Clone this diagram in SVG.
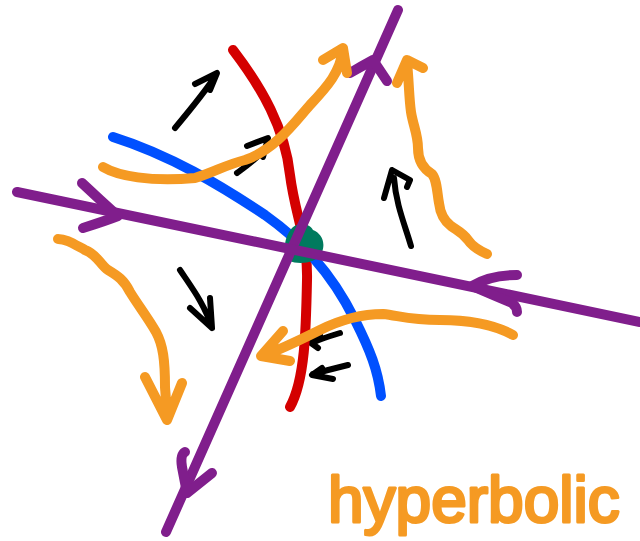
<svg xmlns="http://www.w3.org/2000/svg" width="640" height="541" viewBox="0 0 640 541">
<style>
.s{fill:none;stroke-linecap:round;stroke-linejoin:round}
.p{stroke:#801E8C;stroke-width:10}
.r{stroke:#D40000;stroke-width:10}
.b{stroke:#0050FF;stroke-width:10}
.o{stroke:#F59A23;stroke-width:10}
.k{stroke:#000;stroke-width:6}
.t{font-family:"Liberation Sans",Arial,sans-serif;font-size:64px;fill:#F59A23;stroke:#F59A23;stroke-width:3;stroke-linejoin:round}
</style>
<rect width="640" height="541" fill="#fff"/>
<g id="flow-arrows">
<path class="s k" d="M175,128 C190,110 205,92 216,75 M195,84 L217,73 L210,90"/>
<path class="s k" d="M237,173 C248,165 258,158 266,148 M247,146 L268,138 L263,157"/>
<path class="s k" d="M180,270 C192,288 205,305 212,328 M190,308 L212,328 L210,298"/>
<path class="s k" d="M411,246 C405,225 396,205 394,178 M384,198 L392,170 L410,180 L407,187"/>
<path class="s k" d="M340,333 C330,336 320,339 312,343 M320,335 L311,343 L318,348"/>
<path class="s k" d="M348,365 C336,368 324,371 313,374 M322,368 L312,375 L333,379"/>
</g>
<g id="curves">
<path class="s r" d="M233,50 C262,88 285,128 290,175 C295,215 308,240 307,280 C306,330 305,380 290,407"/>
<path class="s b" d="M113,137 C170,155 220,185 265,215 C300,240 330,270 355,320 C370,350 378,370 381,396"/>
</g>
<g id="origin">
<path fill="#007A5E" d="M292,228 C298,222 309,223 313,230 C321,233 326,242 322,252 C318,263 300,265 289,261 C283,255 283,238 292,228 Z"/>
</g>
<g id="axes">
<path class="s p" d="M398,10 L166,532"/>
<path class="s p" d="M350,73 Q362,66 373,60 L387,81"/>
<path class="s p" d="M185,452 Q180,455 182,467 L187,493 L212,473"/>
<path class="s p" d="M17,192 L640,322"/>
<path class="s p" d="M82,183 Q100,200 118,216 Q105,221 83,228"/>
<path class="s p" d="M517,275 Q490,275 472,286 Q495,296 512,303 Q517,307 517,312"/>
</g>
<g id="orbits">
<path class="s o" d="M103,167 C118,176 150,182 195,178 C215,172 225,165 245,160 C275,150 295,122 310,105 C328,86 340,72 343,50 M323,60 L343,48 L347,73"/>
<path class="s o" d="M487,254 C478,250 472,246 468,240 C462,232 456,230 451,226 C443,220 440,212 439,203 C437,192 437,180 432,174 C422,168 418,160 418,148 C418,135 413,125 411,112 C409,98 409,82 407,62 M397,83 L407,60 L423,68"/>
<path class="s o" d="M58,239 C66,239 72,243 85,250 C98,255 100,265 108,270 C118,276 124,280 130,292 C138,305 148,318 156,332 C163,345 165,360 165,387 C166,400 167,412 167,420 M145,377 L167,420 L182,383"/>
<path class="s o" d="M513,335 C495,325 470,320 440,320 C410,320 400,316 383,314 C360,314 340,320 320,330 C300,340 280,350 262,356 M283,331 L261,356 L290,361"/>
</g>
<g id="label">
<text class="t" x="328" y="522">hyperbolic</text>
</g>
</svg>
